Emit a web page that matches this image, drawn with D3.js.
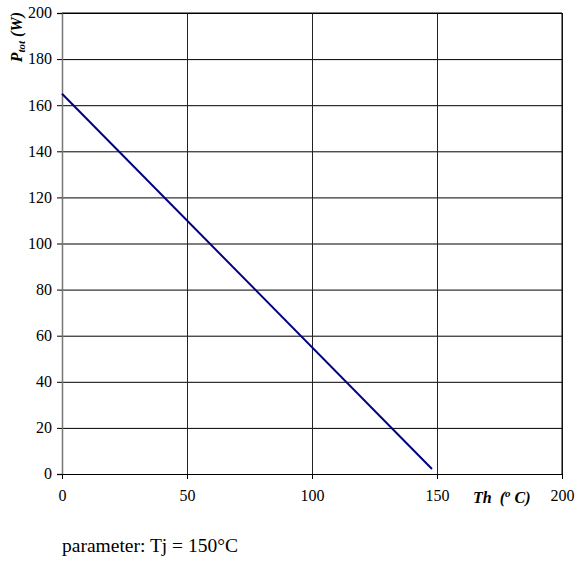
<!DOCTYPE html>
<html>
<head>
<meta charset="utf-8">
<script src="https://cdn.jsdelivr.net/npm/d3@7"></script>
<style>
  html, body { margin: 0; padding: 0; background: #fff; }
  svg { display: block; font-family: "Liberation Serif", "Times New Roman", serif; }
</style>
</head>
<body>
<svg id="chart" width="575" height="565"></svg>
<script>
// Total power dissipation vs heatsink temperature
const thValues = [0, 148];
const ptotValues = [165, 2.2];
const xTicks = [0, 50, 100, 150, 200];
const yTicks = [0, 20, 40, 60, 80, 100, 120, 140, 160, 180, 200];

const margin = { left: 62, right: 13, top: 13, bottom: 91 };
const W = 575, H = 565;
const FONT = "Liberation Serif, Times New Roman, serif";
const svg = d3.select("#chart");

const x = d3.scaleLinear().domain([0, 200]).range([margin.left, W - margin.right]);
const y = d3.scaleLinear().domain([0, 200]).range([H - margin.bottom, margin.top]);

// horizontal grid
svg.append("g")
  .attr("transform", `translate(${margin.left},0)`)
  .call(d3.axisLeft(y).tickValues(yTicks).tickSize(-(x.range()[1] - x.range()[0])).tickFormat(""))
  .call(g => g.select(".domain").remove())
  .call(g => g.selectAll("line").attr("stroke", "#000").attr("stroke-width", 1));

// vertical grid
svg.append("g")
  .attr("transform", `translate(0,${y(0)})`)
  .call(d3.axisBottom(x).tickValues(xTicks).tickSize(-(y.range()[0] - y.range()[1])).tickFormat(""))
  .call(g => g.select(".domain").remove())
  .call(g => g.selectAll("line").attr("stroke", "#222").attr("stroke-width", 1));

// y axis with labels
const yAxis = svg.append("g")
  .attr("transform", `translate(${margin.left},0)`)
  .call(d3.axisLeft(y).tickValues(yTicks).tickSize(5).tickPadding(5));
yAxis.select(".domain").attr("stroke", "#777").attr("stroke-width", 1.5);
yAxis.selectAll("line").attr("stroke", "#000");
yAxis.selectAll("text").attr("font-size", 16).attr("fill", "#000")
  .attr("font-family", FONT).attr("dy", "0.3em");

// x axis with labels
const xAxis = svg.append("g")
  .attr("transform", `translate(0,${y(0)})`)
  .call(d3.axisBottom(x).tickValues(xTicks).tickSize(5).tickPadding(14));
xAxis.select(".domain").attr("stroke", "#000");
xAxis.selectAll("line").attr("stroke", "#000");
xAxis.selectAll("text").attr("font-size", 16).attr("fill", "#000")
  .attr("font-family", FONT).attr("dy", "0.5em");

// frame top and right
svg.append("path")
  .attr("d", `M${x(0)},${y(200)}H${x(200)}V${y(0)}`)
  .attr("fill", "none").attr("stroke", "#000").attr("stroke-width", 1);

// power curve
const pts = thValues.map((t, i) => [t, ptotValues[i]]);
svg.append("path")
  .datum(pts)
  .attr("fill", "none")
  .attr("stroke", "#000080")
  .attr("stroke-width", 2)
  .attr("d", d3.line().x(d => x(d[0])).y(d => y(d[1])));

// y axis title
const yt = svg.append("text")
  .attr("transform", `translate(22,12) rotate(-90)`)
  .attr("text-anchor", "end")
  .attr("font-size", 16).attr("font-weight", "bold").attr("font-style", "italic");
yt.append("tspan").text("P");
yt.append("tspan").attr("font-size", 11).attr("dy", 3).text("tot");
yt.append("tspan").attr("dy", -3).text(" (W)");

// x axis title
const xt = svg.append("text")
  .attr("x", 473).attr("y", 503)
  .attr("font-size", 16).attr("font-weight", "bold").attr("font-style", "italic")
  .attr("xml:space", "preserve");
xt.append("tspan").text("Th  (");
xt.append("tspan").attr("font-size", 11).attr("dy", -6).text("o");
xt.append("tspan").attr("dy", 6).text(" C)");

// parameter note
svg.append("text")
  .attr("x", 62).attr("y", 552)
  .attr("font-size", 19.5)
  .text("parameter: Tj = 150°C");
</script>
</body>
</html>
